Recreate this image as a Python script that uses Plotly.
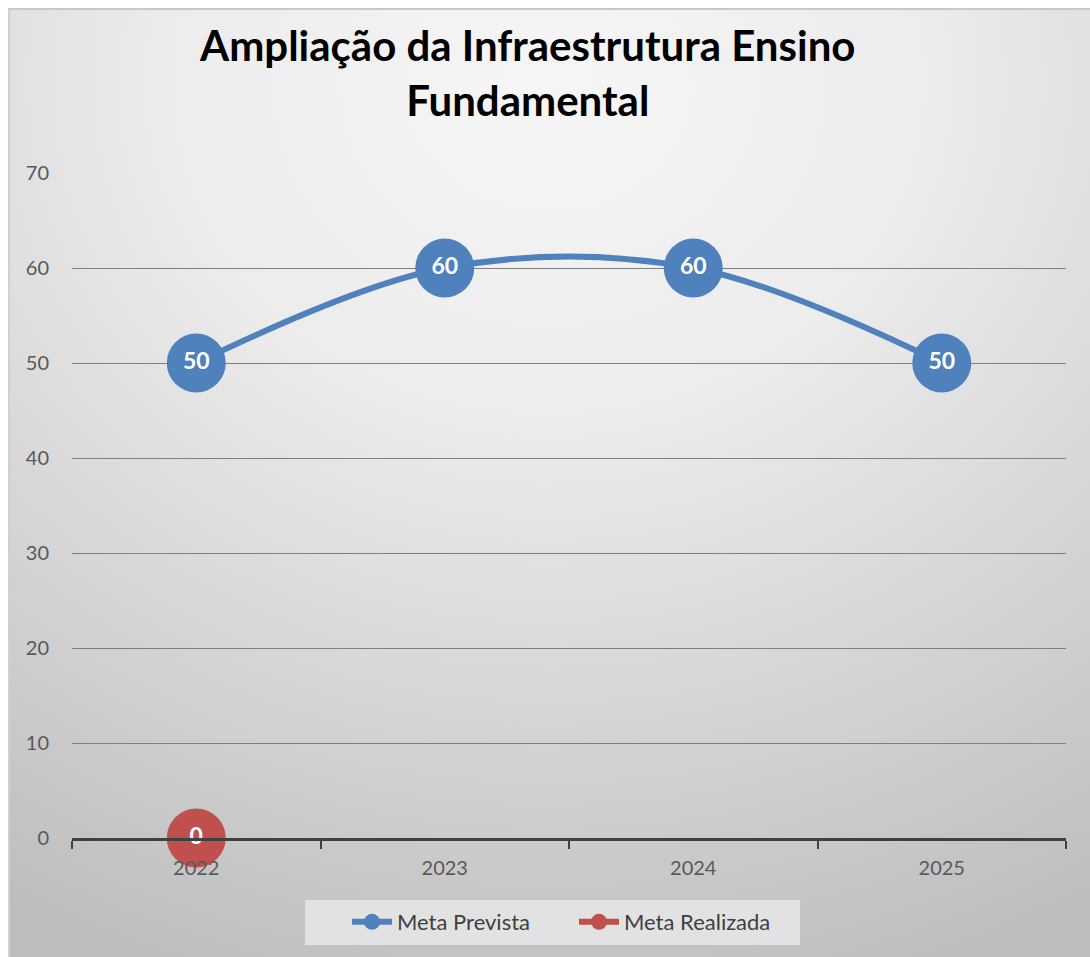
import plotly.graph_objects as go
import urllib.parse

years = ["2022", "2023", "2024", "2025"]
meta_prevista = [50, 60, 60, 50]
years_realizada = ["2022"]
meta_realizada = [0]
y_ticks = [0, 10, 20, 30, 40, 50, 60, 70]

W, H = 1090, 957
box_l, box_t = 8, 8

svg = (
    "<svg xmlns='http://www.w3.org/2000/svg' width='1082' height='949' preserveAspectRatio='none'>"
    "<defs><radialGradient id='g' cx='0.5' cy='0.08' r='1.0' gradientUnits='objectBoundingBox'>"
    "<stop offset='0' stop-color='#f6f6f6'/><stop offset='0.35' stop-color='#ececec'/>"
    "<stop offset='1' stop-color='#bdbdbd'/></radialGradient></defs>"
    "<rect width='1082' height='949' fill='url(#g)'/>"
    "<rect x='0' y='0' width='1082' height='2' fill='#c8c8c8'/>"
    "<rect x='0' y='0' width='2' height='949' fill='#d0d0d0'/>"
    "</svg>"
)
src = "data:image/svg+xml;charset=utf-8," + urllib.parse.quote(svg)

fig = go.Figure()
fig.add_trace(go.Scatter(
    x=years, y=meta_prevista, name="Meta Prevista",
    mode="lines+markers+text",
    line=dict(color="#4f81bd", width=6, shape="spline", smoothing=1),
    marker=dict(size=59, color="#4f81bd"),
    text=[str(v) for v in meta_prevista], textposition="middle center",
    textfont=dict(family="Lato", size=23, color="white", weight="bold"),
    cliponaxis=False,
))
fig.add_trace(go.Scatter(
    x=years_realizada, y=meta_realizada, name="Meta Realizada",
    mode="lines+markers+text",
    line=dict(color="#c0504d", width=6),
    marker=dict(size=59, color="#c0504d"),
    text=[str(v) for v in meta_realizada], textposition="middle center",
    textfont=dict(family="Lato", size=23, color="white", weight="bold"),
    cliponaxis=False,
))

px_l, px_r, px_t, px_b = 72, 1066, 173, 838
fig.update_layout(
    width=W, height=H,
    margin=dict(l=0, r=0, t=0, b=0, pad=0, autoexpand=False),
    paper_bgcolor="white", plot_bgcolor="rgba(0,0,0,0)",
    images=[dict(source=src, xref="paper", yref="paper",
                 x=box_l / W, y=1 - box_t / H, sizex=(W - box_l) / W, sizey=(H - box_t) / H,
                 xanchor="left", yanchor="top", sizing="stretch", layer="below")],
    shapes=[dict(type="rect", xref="paper", yref="paper",
                 x0=305 / W, x1=800 / W, y0=1 - 945 / H, y1=1 - 900 / H,
                 fillcolor="#e2e2e2", line=dict(width=0), layer="below")],
    annotations=[dict(text="Ampliação da Infraestrutura Ensino<br>Fundamental",
                      xref="paper", yref="paper", x=527 / W, y=1 - 72.5 / H,
                      xanchor="center", yanchor="middle", showarrow=False,
                      font=dict(family="Lato", size=42, color="black", weight="bold"))],
    xaxis=dict(domain=[px_l / W, px_r / W], type="category", range=[-0.5, 3.5],
               automargin=False,
               showgrid=False, showline=True, linecolor="#404040", linewidth=3,
               ticks="outside", tickson="boundaries", ticklen=8, tickwidth=2, tickcolor="#404040",
               tickfont=dict(family="Lato", size=20, color="#595959"),
               ticklabelstandoff=10, zeroline=False),
    yaxis=dict(domain=[1 - px_b / H, 1 - px_t / H], range=[0, 70], tickvals=y_ticks,
               automargin=False,
               showgrid=True, gridcolor="#7f7f7f", gridwidth=1, zeroline=False,
               showline=False, ticks="",
               tickfont=dict(family="Lato", size=20, color="#595959"),
               ticklabelstandoff=22),
    showlegend=True,
    legend=dict(orientation="h", x=347 / W, xanchor="left", y=1 - 922 / H, yanchor="middle",
                bgcolor="rgba(0,0,0,0)", font=dict(family="Lato", size=22, color="#404040"),
                itemwidth=40, itemsizing="trace", entrywidth=172, entrywidthmode="pixels"),
)
fig.write_html(
    "out.html",
    config={"displayModeBar": False},
    post_script=(
        "document.documentElement.style.margin='0';document.body.style.margin='0';"
        "document.documentElement.style.overflow='hidden';document.body.style.overflow='hidden';"
        "var d=document.getElementById('{plot_id}');d.style.position='fixed';"
        "d.style.top='0px';d.style.left='0px';"
    ),
)
